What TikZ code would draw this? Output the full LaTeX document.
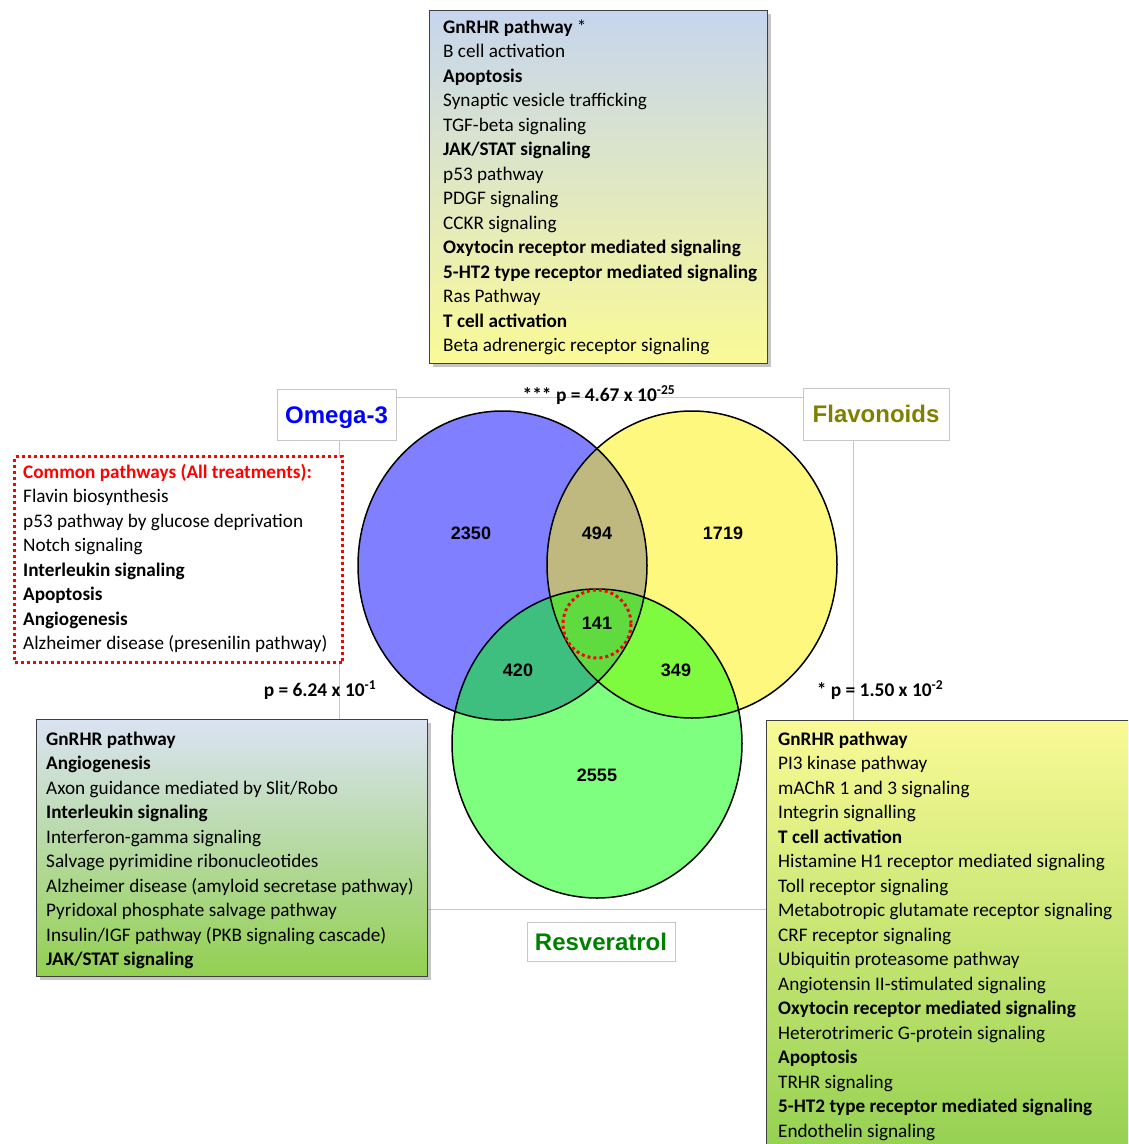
\documentclass[tikz,border=0pt]{standalone}
\usepackage{fontspec}
\setmainfont{Carlito}
\newfontfamily\arialfont{Liberation Sans}
\usetikzlibrary{shadows}

\definecolor{omegaBlue}{HTML}{0000FF}
\definecolor{flavOlive}{HTML}{808000}
\definecolor{resvGreen}{HTML}{008000}
\definecolor{frameGray}{HTML}{C8C8C8}
\definecolor{boxBlue}{HTML}{C6D5EE}
\definecolor{boxPaleBlue}{HTML}{DAE3F3}
\definecolor{boxYellow}{HTML}{FAFA96}
\definecolor{boxLeaf}{HTML}{92D050}

\tikzset{
  listbox/.style={draw=black!75, line width=1.2pt, anchor=north west, inner sep=0pt,
    drop shadow={shadow xshift=3pt, shadow yshift=-3pt, opacity=0.45}},
  listtext/.style={anchor=north west, align=left, inner sep=0pt,
    font=\fontsize{19.2}{24.5}\selectfont, execute at begin node=\strut},
  catlabel/.style={draw=frameGray, fill=white, inner sep=0pt, text height=17.2pt, text depth=0pt,
    font=\arialfont\bfseries\fontsize{24}{26}\selectfont},
  venncount/.style={font=\arialfont\bfseries\fontsize{18}{20}\selectfont},
  pval/.style={font=\bfseries\fontsize{19.4}{20}\selectfont}
}

\begin{document}
\begin{tikzpicture}[x=1pt,y=-1pt]
    \useasboundingbox (0,0) rectangle (1128,1144);
    \clip (0,0) rectangle (1128,1144);
    \fill[white] (0,0) rectangle (1128,1144);

    % thin frame round the diagram
    \draw[frameGray, line width=1pt] (339,397) rectangle (853,909);

    % Venn diagram
    \fill[omegaBlue, fill opacity=0.5] (502.5,565.5) ellipse [x radius=144.5, y radius=154.5];
    \fill[yellow, fill opacity=0.5] (692,564.5) ellipse [x radius=145, y radius=153.5];
    \fill[green, fill opacity=0.5] (597,743.5) ellipse [x radius=145, y radius=154.5];
    \draw[line width=1.5pt] (502.5,565.5) ellipse [x radius=144.5, y radius=154.5];
    \draw[line width=1.5pt] (692,564.5) ellipse [x radius=145, y radius=153.5];
    \draw[line width=1.5pt] (597,743.5) ellipse [x radius=145, y radius=154.5];
    \draw[red, line width=3pt, dash pattern=on 3pt off 3pt] (597,624) circle (34);

    \node[venncount] (nO) at (471,533) {2350};
    \node[venncount] (nOF) at (597,533) {494};
    \node[venncount] (nF) at (723,533) {1719};
    \node[venncount] (nAll) at (597,623) {141};
    \node[venncount] (nOR) at (518,670) {420};
    \node[venncount] (nFR) at (676,670) {349};
    \node[venncount] (nR) at (597,775) {2555};

    % treatment labels
    \node[catlabel, minimum width=119, minimum height=51, text=omegaBlue] (omegaLabel) at (336.5,414.5) {Omega-3};
    \node[catlabel, minimum width=146, minimum height=52, text=flavOlive] (flavLabel) at (876,414) {Flavonoids};
    \node[catlabel, minimum width=148, minimum height=39, text=resvGreen] (resvLabel) at (601,941.5) {Resveratrol};

    % p values
    \node[pval] (pOF) at (599,395) {*** p = 4.67 x 10\textsuperscript{-25}};
    \node[pval] (pOR) at (320,690) {p = 6.24 x 10\textsuperscript{-1}};
    \node[pval] (pFR) at (880,690) {* p = 1.50 x 10\textsuperscript{-2}};

    % common pathways
    \node[draw=red, line width=3pt, dash pattern=on 3pt off 3pt, fill=white, anchor=north west,
          minimum width=328, minimum height=206, inner sep=0pt] (listAll) at (13,455) {};
    \node[listtext] (textAll) at (23,464) {\textcolor{red}{\textbf{Common pathways (All treatments):}}\\
        Flavin biosynthesis\\
        p53 pathway by glucose deprivation\\
        Notch signaling\\
        \textbf{Interleukin signaling}\\
        \textbf{Apoptosis}\\
        \textbf{Angiogenesis}\\
        Alzheimer disease (presenilin pathway)};

    % Omega-3 and Flavonoids
    \node[listbox, top color=boxBlue, bottom color=boxYellow,
          minimum width=338, minimum height=353] (listOF) at (429,10) {};
    \node[listtext] (textOF) at (443,19.5) {\textbf{GnRHR pathway} *\\
        B cell activation\\
        \textbf{Apoptosis}\\
        Synaptic vesicle trafficking\\
        TGF-beta signaling\\
        \textbf{JAK/STAT signaling}\\
        p53 pathway\\
        PDGF signaling\\
        CCKR signaling\\
        \textbf{Oxytocin receptor mediated signaling}\\
        \textbf{5-HT2 type receptor mediated signaling}\\
        Ras Pathway\\
        \textbf{T cell activation}\\
        Beta adrenergic receptor signaling};

    % Omega-3 and Resveratrol
    \node[listbox, top color=boxPaleBlue, bottom color=boxLeaf,
          minimum width=391, minimum height=257] (listOR) at (36,719) {};
    \node[listtext] (textOR) at (46,731.5) {\textbf{GnRHR pathway}\\
        \textbf{Angiogenesis}\\
        Axon guidance mediated by Slit/Robo\\
        \textbf{Interleukin signaling}\\
        Interferon-gamma signaling\\
        Salvage pyrimidine ribonucleotides\\
        Alzheimer disease (amyloid secretase pathway)\\
        Pyridoxal phosphate salvage pathway\\
        Insulin/IGF pathway (PKB signaling cascade)\\
        \textbf{JAK/STAT signaling}};

    % Flavonoids and Resveratrol
    \node[listbox, top color=boxYellow, bottom color=boxLeaf,
          minimum width=384, minimum height=440] (listFR) at (766,720) {};
    \node[listtext] (textFR) at (778,731.5) {\textbf{GnRHR pathway}\\
        PI3 kinase pathway\\
        mAChR 1 and 3 signaling\\
        Integrin signalling\\
        \textbf{T cell activation}\\
        Histamine H1 receptor mediated signaling\\
        Toll receptor signaling\\
        Metabotropic glutamate receptor signaling\\
        CRF receptor signaling\\
        Ubiquitin proteasome pathway\\
        Angiotensin II-stimulated signaling\\
        \textbf{Oxytocin receptor mediated signaling}\\
        Heterotrimeric G-protein signaling\\
        \textbf{Apoptosis}\\
        TRHR signaling\\
        \textbf{5-HT2 type receptor mediated signaling}\\
        Endothelin signaling};
\end{tikzpicture}
\end{document}
